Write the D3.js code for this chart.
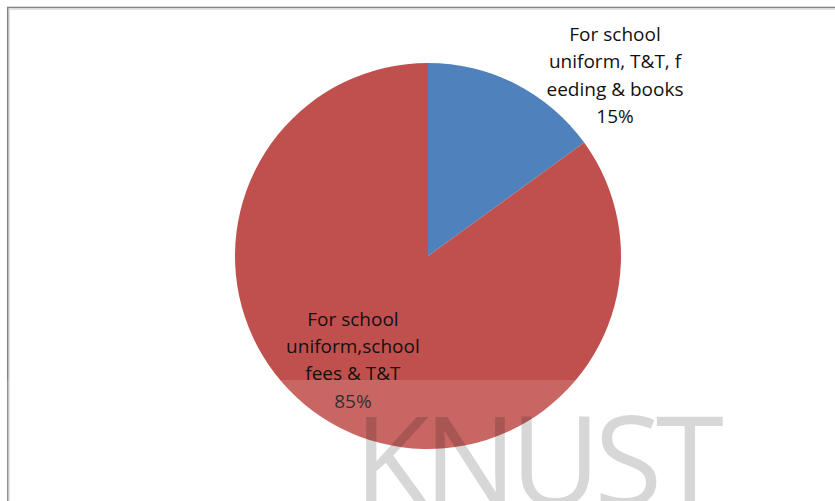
<!DOCTYPE html>
<meta charset="utf-8">
<style>
body { margin: 0; background: #fff; }
.label { font: 19px "Open Sans", sans-serif; fill: #111; }
.mark { font-family: "Open Sans", sans-serif; font-weight: 400; }
</style>
<svg width="835" height="501"></svg>
<script src="https://cdn.jsdelivr.net/npm/d3@7"></script>
<script>
// values
var categories = ["For school uniform, T&T, feeding & books", "For school uniform,school fees & T&T"];
var labelLines = [["For school", "uniform, T&T, f", "eeding & books"], ["For school", "uniform,school", "fees & T&T"]];
var values = [15, 85];
var colors = ["#4f81bd", "#c0504d"];

var svg = d3.select("svg"),
    cx = 428, cy = 256, radius = 193;

// chart frame (runs off the right and bottom of the picture)
svg.append("rect")
    .attr("x", 9.5).attr("y", 9.5).attr("width", 900).attr("height", 600)
    .attr("fill", "none").attr("stroke", "#e2e2e2").attr("stroke-width", 1);
svg.append("rect")
    .attr("x", 7.75).attr("y", 7.5).attr("width", 900).attr("height", 600)
    .attr("fill", "none").attr("stroke", "#858585").attr("stroke-width", 1.6);

var pie = d3.pie().sort(null).value(function(d) { return d; });
var arc = d3.arc().innerRadius(0).outerRadius(radius);

var g = svg.append("g").attr("transform", "translate(" + cx + "," + cy + ")");

var arcs = pie(values);

g.selectAll(".slice")
    .data(arcs)
  .enter().append("path")
    .attr("class", "slice")
    .attr("d", arc)
    .attr("fill", function(d, i) { return colors[i]; });

// label block centre, as fraction of radius from pie centre
var labelPos = [[0.969, -0.902], [-0.389, 0.574]];
var lineH = 27.4;

var total = d3.sum(values);
g.selectAll(".label")
    .data(arcs)
  .enter().append("text")
    .attr("class", "label")
    .attr("text-anchor", "middle")
    .attr("transform", function(d, i) {
      return "translate(" + (labelPos[i][0] * radius) + "," + (labelPos[i][1] * radius) + ")";
    })
    .each(function(d, i) {
      var t = d3.select(this);
      var lines = labelLines[i].concat([Math.round(d.value / total * 100) + "%"]);
      lines.forEach(function(l, j) {
        t.append("tspan").attr("x", 0).attr("y", (j - 1.5) * lineH).text(l);
      });
    });

// watermark band and text
svg.append("rect")
    .attr("x", 0).attr("y", 380).attr("width", 835).attr("height", 121)
    .attr("fill", "#fff").attr("fill-opacity", 0.13);

svg.append("text")
    .attr("class", "mark")
    .attr("x", 354).attr("y", 506)
    .attr("font-size", 124)
    .attr("textLength", 370)
    .attr("fill", "#000").attr("fill-opacity", 0.155)
    .text("KNUST");
</script>
